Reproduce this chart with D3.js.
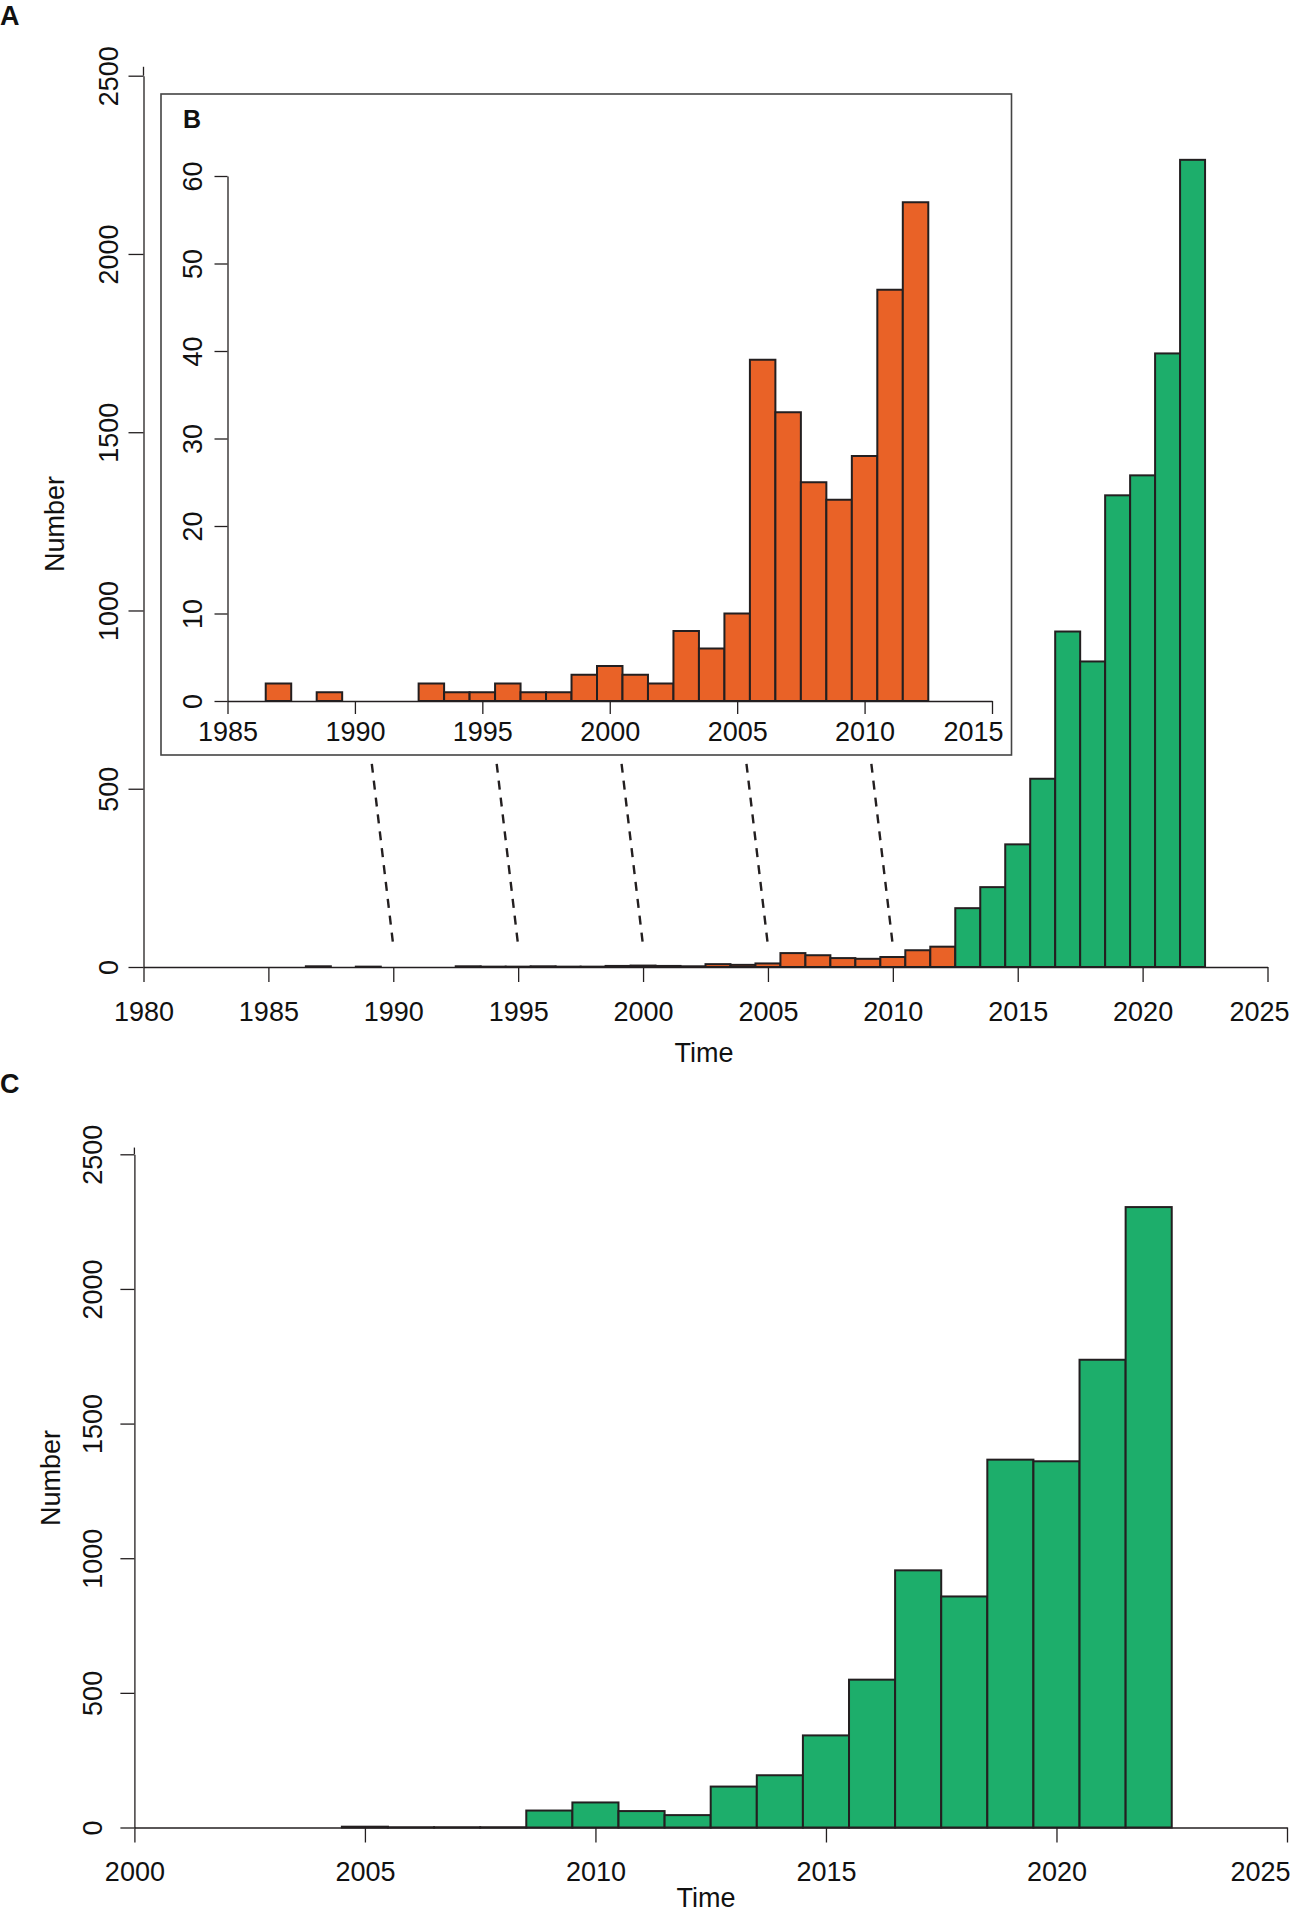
<!DOCTYPE html>
<html>
<head>
<meta charset="utf-8">
<script src="https://cdn.jsdelivr.net/npm/d3@7"></script>
<style>
  body { margin: 0; background: #fff; }
  svg { display: block; }
</style>
</head>
<body>
<svg id="chart" width="1292" height="1915"></svg>
<script>
// ---------------- DATA ----------------
const earlyYears  = [1987,1988,1989,1990,1991,1992,1993,1994,1995,1996,1997,1998,1999,2000,2001,2002,2003,2004,2005,2006,2007,2008,2009,2010,2011,2012];
const earlyCounts = [2,0,1,0,0,0,2,1,1,2,1,1,3,4,3,2,8,6,10,39,33,25,23,28,47,57];

const recentYearsA  = [2013,2014,2015,2016,2017,2018,2019,2020,2021,2022];
const recentCountsA = [165,224,344,528,941,857,1323,1379,1721,2264];

const yearsC  = [2005,2006,2007,2008,2009,2010,2011,2012,2013,2014,2015,2016,2017,2018,2019,2020,2021,2022];
const countsC = [3,1,1,1,63,93,61,46,152,194,342,549,955,858,1366,1360,1737,2304];

const mainXTicks  = [1980,1985,1990,1995,2000,2005,2010,2015,2020,2025];
const countTicks  = [0,500,1000,1500,2000,2500];
const insetXTicks = [1985,1990,1995,2000,2005,2010,2015];
const insetYTicks = [0,10,20,30,40,50,60];
const cXTicks     = [2000,2005,2010,2015,2020,2025];
const linkYears   = [1990,1995,2000,2005,2010];

// ---------------- STYLE ----------------
const FONT = '"Liberation Sans", Arial, Helvetica, sans-serif';
const ORANGE = "#e96227", GREEN = "#1dae6b", EDGE = "#231f20", INK = "#111";

const svg = d3.select("#chart");

// ---------------- SCALES ----------------
const xA = d3.scaleLinear().domain([1980, 2025]).range([143.5, 1267.5]);
const yA = d3.scaleLinear().domain([0, 2500]).range([967, 75.7]);

const xB = d3.scaleLinear().domain([1985, 2015]).range([227.5, 992]);
const yB = d3.scaleLinear().domain([0, 60]).range([701, 176]);

const xC = d3.scaleLinear().domain([2000, 2025]).range([134.4, 1287]);
const yC = d3.scaleLinear().domain([0, 2500]).range([1827.5, 1154.3]);

// ---------------- HELPERS ----------------
function bars(g, years, counts, x, y, fill) {
  g.selectAll(null)
    .data(years.map((yr, i) => ({ yr, v: counts[i] })))
    .enter().append("rect")
    .attr("x", d => x(d.yr - 0.5))
    .attr("width", d => x(d.yr + 0.5) - x(d.yr - 0.5))
    .attr("y", d => y(d.v))
    .attr("height", d => y(0) - y(d.v))
    .attr("fill", fill)
    .attr("stroke", EDGE)
    .attr("stroke-width", 2);
}

// lastRight: right edge (page x) for the last tick label so it stays inside its frame
function xAxis(g, scale, ticks, tickLen, labelY, lastRight) {
  g.call(d3.axisBottom(scale).tickValues(ticks).tickFormat(d3.format("d"))
      .tickSize(tickLen).tickSizeOuter(0));
  g.attr("font-size", 27).attr("font-family", FONT).attr("color", EDGE);
  g.select(".domain").attr("stroke-width", 1.3);
  g.selectAll(".tick line").attr("stroke-width", 1.3);
  g.selectAll(".tick text").attr("y", labelY).attr("dy", 0).attr("fill", INK);
  const last = ticks[ticks.length - 1];
  g.selectAll(".tick text").filter(d => d === last)
    .attr("text-anchor", "end")
    .attr("x", lastRight - scale(last));
}

function yAxis(g, scale, ticks, tickLen, labelGap) {
  g.call(d3.axisLeft(scale).tickValues(ticks).tickFormat(d3.format("d"))
      .tickSize(tickLen).tickSizeOuter(0));
  g.attr("font-size", 27).attr("font-family", FONT).attr("color", EDGE);
  g.select(".domain").attr("stroke-width", 1.3);
  g.selectAll(".tick line").attr("stroke-width", 1.3);
  g.selectAll(".tick text")
    .attr("x", null).attr("dy", null)
    .attr("text-anchor", "middle")
    .attr("transform", `translate(${-labelGap},0) rotate(-90)`)
    .attr("fill", INK);
}

function label(txt, x, y, size, opts = {}) {
  const t = svg.append("text")
    .attr("x", x).attr("y", y)
    .attr("font-family", FONT)
    .attr("font-size", size)
    .attr("fill", INK)
    .attr("font-weight", opts.bold ? "bold" : "normal")
    .attr("text-anchor", opts.anchor || "start")
    .text(txt);
  if (opts.rotate) t.attr("transform", `rotate(-90, ${x}, ${y})`);
  return t;
}

// ================= PANEL A =================
const gA = svg.append("g");
bars(gA, earlyYears, earlyCounts, xA, yA, ORANGE);
bars(gA, recentYearsA, recentCountsA, xA, yA, GREEN);

xAxis(svg.append("g").attr("transform", `translate(0,${yA(0)})`), xA, mainXTicks, 15, 54, 1289);
yAxis(svg.append("g").attr("transform", `translate(${xA(1980)},0)`), yA, countTicks, 15, 26);
svg.append("line")
  .attr("x1", xA(1980)).attr("x2", xA(1980))
  .attr("y1", yA(2500)).attr("y2", yA(2525))
  .attr("stroke", EDGE).attr("stroke-width", 1.3);

label("Time", xA(2002.5) - 1.5, 1062, 27, { anchor: "middle" });
label("Number", 63.5, 524, 27, { anchor: "middle", rotate: true });
label("A", 0, 25, 27, { bold: true });

// dashed links between inset and main axis
svg.append("g").selectAll("line")
  .data(linkYears).enter().append("line")
  .attr("x1", d => xA(d - 0.86)).attr("y1", yA(570))
  .attr("x2", d => xA(d)).attr("y2", yA(60))
  .attr("stroke", EDGE).attr("stroke-width", 2.4)
  .attr("stroke-dasharray", "9,8");

// ================= INSET B =================
svg.append("rect")
  .attr("x", 161).attr("y", 94)
  .attr("width", 1011.5 - 161).attr("height", 755 - 94)
  .attr("fill", "#fff").attr("stroke", "#444").attr("stroke-width", 1.6);

const gB = svg.append("g");
bars(gB, earlyYears, earlyCounts, xB, yB, ORANGE);
xAxis(svg.append("g").attr("transform", `translate(0,${yB(0)})`), xB, insetXTicks, 13, 40, 1003);
yAxis(svg.append("g").attr("transform", `translate(${xB(1985)},0)`), yB, insetYTicks, 13, 25.6);
label("B", 183, 128, 25, { bold: true });

// ================= PANEL C =================
const gC = svg.append("g");
bars(gC, yearsC, countsC, xC, yC, GREEN);
xAxis(svg.append("g").attr("transform", `translate(0,${yC(0)})`), xC, cXTicks, 15, 53, 1290);
yAxis(svg.append("g").attr("transform", `translate(${xC(2000)},0)`), yC, countTicks, 14, 32);
svg.append("line")
  .attr("x1", xC(2000)).attr("x2", xC(2000))
  .attr("y1", yC(2500)).attr("y2", yC(2525))
  .attr("stroke", EDGE).attr("stroke-width", 1.3);

label("Time", 706, 1907, 27, { anchor: "middle" });
label("Number", 60, 1478, 27, { anchor: "middle", rotate: true });
label("C", 0, 1093, 27, { bold: true });
</script>
</body>
</html>
